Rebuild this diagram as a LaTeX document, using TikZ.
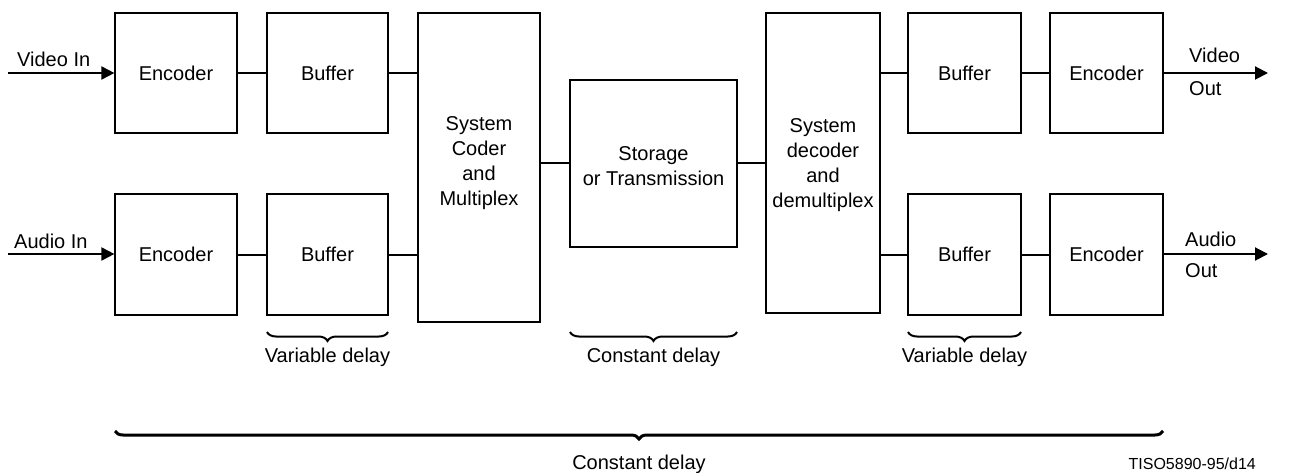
\documentclass[tikz,border=0pt]{standalone}
\usepackage{fontspec}
\setmainfont{Liberation Sans}
\usetikzlibrary{arrows.meta,decorations.pathreplacing}
\begin{document}
\begin{tikzpicture}[x=1pt,y=-1pt,
  every node/.style={font=\fontsize{20}{25}\selectfont},
  blk/.style={draw,line width=1.2pt,minimum width=#1,inner sep=0pt,align=center},
  link/.style={line width=2pt},
  feed/.style={line width=2pt,-{Triangle[length=13pt,width=13pt]}},
  brc/.style={decorate,decoration={brace,mirror,amplitude=9pt},line width=2pt},
  bigbrc/.style={decorate,decoration={brace,mirror,amplitude=8pt},line width=3pt},
  lbl/.style={inner sep=0pt}]
\useasboundingbox (0,0) rectangle (1308,473);

% encoder side
\node[blk=122pt,minimum height=120pt] (enc1) at (176,73) {Encoder};
\node[blk=121pt,minimum height=120pt] (buf1) at (327.5,73) {Buffer};
\node[blk=122pt,minimum height=121pt] (enc2) at (176,254.5) {Encoder};
\node[blk=121pt,minimum height=121pt] (buf2) at (327.5,254.5) {Buffer};
\node[blk=122pt,minimum height=309pt] (sysc) at (479,167.5) {};
\node[lbl,align=center] (sysct) at (479,163) {System\\Coder\\and\\Multiplex};

% channel
\node[blk=167pt,minimum height=167pt] (stor) at (653.5,163.5) {};
\node[lbl,align=center] (stort) at (653.5,166) {Storage\\or Transmission};

% decoder side
\node[blk=114pt,minimum height=300pt] (sysd) at (823,163) {};
\node[lbl,align=center] (sysdt) at (823,165.5) {System\\decoder\\and\\demultiplex};
\node[blk=113pt,minimum height=120pt] (buf3) at (964.5,73) {Buffer};
\node[blk=113pt,minimum height=120pt] (enc3) at (1106.5,73) {Encoder};
\node[blk=113pt,minimum height=121pt] (buf4) at (964.5,254.5) {Buffer};
\node[blk=113pt,minimum height=121pt] (enc4) at (1106.5,254.5) {Encoder};

% inputs and outputs
\coordinate (vin) at (8,73);
\coordinate (ain) at (8,254);
\coordinate (vout) at (1268,73);
\coordinate (aout) at (1268,254);
\node[lbl,anchor=base west] (vinl) at (17,67) {Video In};
\node[lbl,anchor=base west] (ainl) at (14,248) {Audio In};
\node[lbl,anchor=base west] (voutl1) at (1189,63) {Video};
\node[lbl,anchor=base west] (voutl2) at (1189,96) {Out};
\node[lbl,anchor=base west] (aoutl1) at (1185,246) {Audio};
\node[lbl,anchor=base west] (aoutl2) at (1185,277) {Out};

\draw[feed] (vin) -- (enc1.west |- vin);
\draw[feed] (ain) -- (enc2.west |- ain);
\draw[feed] (enc3.east |- vout) -- (vout);
\draw[feed] (enc4.east |- aout) -- (aout);

% connectors
\draw[link] (enc1) -- (buf1);
\draw[link] (enc2) -- (buf2);
\draw[link] (buf1.east) -- (buf1.east -| sysc.west);
\draw[link] (buf2.east) -- (buf2.east -| sysc.west);
\draw[link] (sysc.east |- stor.west) -- (stor.west);
\draw[link] (stor.east) -- (stor.east -| sysd.west);
\draw[link] (sysd.east |- buf3.west) -- (buf3.west);
\draw[link] (sysd.east |- buf4.west) -- (buf4.west);
\draw[link] (buf3) -- (enc3);
\draw[link] (buf4) -- (enc4);

% delay braces
\coordinate (b1a) at (267,332);  \coordinate (b1b) at (388,332);
\coordinate (b2a) at (570,332);  \coordinate (b2b) at (737,332);
\coordinate (b3a) at (908,332);  \coordinate (b3b) at (1021,332);
\coordinate (b4a) at (115,431);  \coordinate (b4b) at (1163,431);
\draw[brc] (b1a) -- (b1b);
\draw[brc] (b2a) -- (b2b);
\draw[brc] (b3a) -- (b3b);
\draw[bigbrc] (b4a) -- (b4b);
\node[lbl] (d1) at (327.5,357) {Variable delay};
\node[lbl] (d2) at (653.5,357) {Constant delay};
\node[lbl] (d3) at (964.5,357) {Variable delay};
\node[lbl] (d4) at (639,464) {Constant delay};
\node[lbl,anchor=east,font=\fontsize{16}{20}\selectfont] (ref) at (1256,464) {TISO5890-95/d14};
\end{tikzpicture}
\end{document}
